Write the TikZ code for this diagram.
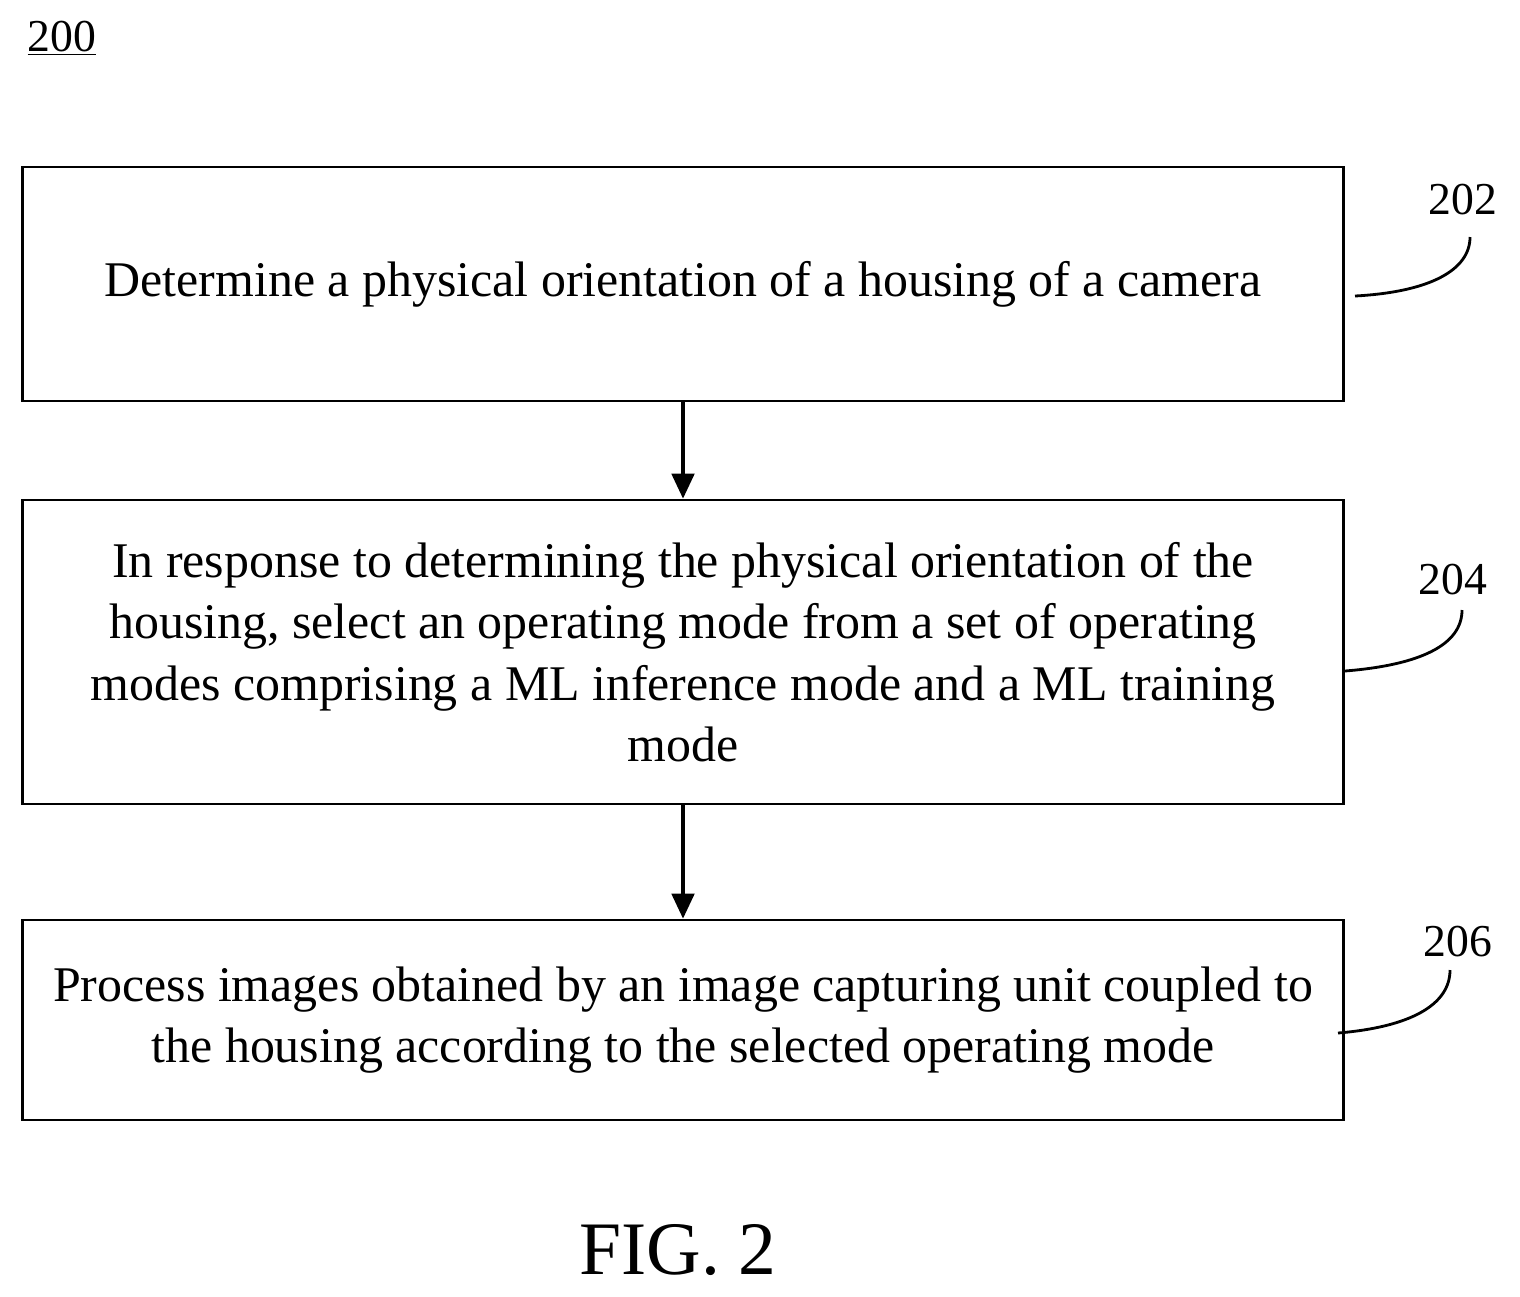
\documentclass[tikz,border=0pt]{standalone}
\usepackage{fontspec}
\setmainfont{Liberation Serif}
\usetikzlibrary{arrows.meta,positioning}
\tikzset{
  stepbox/.style = {draw=black, line width=1.6pt, minimum width=26.42cm,
    align=center, font=\fontsize{28.4}{35}\selectfont},% step box
  reflabel/.style = {font=\fontsize{26}{30}\selectfont, inner sep=0pt},% ref number
  flowarrow/.style = {-{Triangle[length=0.5cm,width=0.45cm]}, line width=2pt}
}
\begin{document}
\begin{tikzpicture}[x=0.02cm,y=-0.02cm]
  \useasboundingbox (0,0) rectangle (1520,1296);
  \node [reflabel, anchor=center] (fig) at (62,38) {\underline{200}};
        \node [stepbox, minimum height=4.68cm] (s202) at (683,284)
            {Determine a physical orientation of a housing of a camera};
        \node [stepbox, minimum height=6.08cm] (s204) at (683,652)
            {In response to determining the physical orientation of the\\
             housing, select an operating mode from a set of operating\\
             modes comprising a ML inference mode and a ML training\\ mode};
        \node [stepbox, minimum height=4cm] (s206) at (683,1020)
            {Process images obtained by an image capturing unit coupled to\\
             the housing according to the selected operating mode};
  \draw [flowarrow] (s202) -- (s204);
  \draw [flowarrow] (s204) -- (s206);
  % reference numerals
  \node [reflabel] (n202) at (1463,200) {202};
  \node [reflabel] (n204) at (1453,580) {204};
  \node [reflabel] (n206) at (1458,942) {206};
  \coordinate (c202) at (1355,296);
  \coordinate (c204) at (1345,671);
  \coordinate (c206) at (1338,1033);
  \draw [line width=1.6pt] (c202) .. controls (1430,292) and (1470,270) .. (1470,237);
  \draw [line width=1.6pt] (c204) .. controls (1420,665) and (1462,645) .. (1462,610);
  \draw [line width=1.6pt] (c206) .. controls (1410,1027) and (1450,1005) .. (1450,970);
  \node [font=\fontsize{43}{50}\selectfont] (caption) at (678,1250) {FIG. 2};
\end{tikzpicture}
\end{document}
